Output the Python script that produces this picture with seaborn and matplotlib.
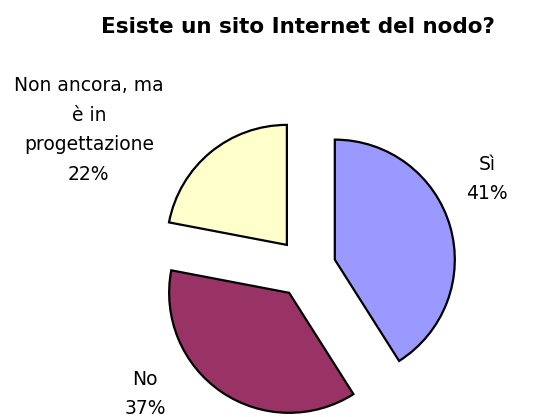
import matplotlib
matplotlib.use("Agg")
import matplotlib.pyplot as plt
import seaborn as sns

sns.set_theme(style="white")
plt.rcParams['font.family'] = ['DejaVu Sans']
plt.rcParams['text.color'] = 'black'

categories = ["Sì", "No", "Non ancora, ma\nè in\nprogettazione"]
values = [41, 37, 22]
colors = ["#9999FF", "#993366", "#FFFFCC"]
title = "Esiste un sito Internet del nodo?"

W, H = 544, 417
cx, cy, R = 306, 268, 120
fig = plt.figure(figsize=(W / 100, H / 100), dpi=100)
ax = fig.add_axes([0, 0, 1, 1])

labels = [f"{c}\n{v}%" for c, v in zip(categories, values)]
wedges, texts = ax.pie(values, colors=colors, startangle=90, counterclock=False,
                       explode=[0.25] * 3, labels=labels, radius=1,
                       wedgeprops=dict(edgecolor="black", linewidth=1.6))
label_pos = [(1.51, 0.74), (-1.34, -1.05), (-1.81, 1.15)]
for t, p in zip(texts, label_pos):
    t.set_position(p)
    t.set_ha("center")
    t.set_va("center")
    t.set_multialignment("center")
    t.set_fontsize(13.5)
    t.set_linespacing(1.7)
    t.set_color("black")

ax.set_xlim(-cx / R, (W - cx) / R)
ax.set_ylim(-(H - cy) / R, cy / R)
ax.set_aspect("auto")
ax.axis("off")

fig.text(298 / W, 1 - 27 / H, title, ha="center", va="center",
         fontsize=15.5, fontweight="bold", color="black")

fig.savefig("out.png", dpi=100)
